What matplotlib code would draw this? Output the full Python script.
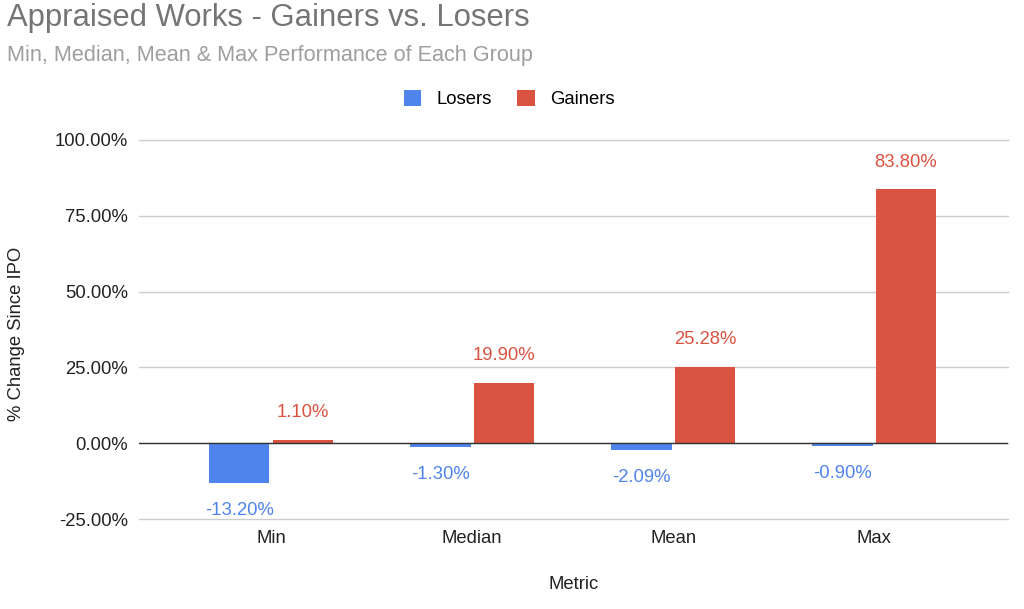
import matplotlib
matplotlib.use("Agg")
import matplotlib.pyplot as plt
from matplotlib.patches import Patch
import numpy as np

categories = ["Min", "Median", "Mean", "Max"]
losers = [-13.20, -1.30, -2.09, -0.90]
gainers = [1.10, 19.90, 25.28, 83.80]
yticks = [-25, 0, 25, 50, 75, 100]

BLUE = "#4f84ec"
RED = "#da5240"
FS = 13.3

plt.rcParams['font.family'] = ['Liberation Sans', 'DejaVu Sans']

fig = plt.figure(figsize=(10.24, 6.09), dpi=100)
ax = fig.add_axes([139/1024, 1-519/609, (1008-139)/1024, (519-140)/609])

x = np.arange(len(categories))
w = 0.30
off = 0.158
ax.bar(x - off, losers, width=w, color=BLUE, zorder=3)
ax.bar(x + off, gainers, width=w, color=RED, zorder=3)

for xi, v in zip(x, losers):
    ax.annotate(f"{v:.2f}%", (xi - off, v), xytext=(0, -19.8), textcoords="offset points",
                ha="center", va="center", color=BLUE, fontsize=FS)
for xi, v in zip(x, gainers):
    ax.annotate(f"{v:.2f}%", (xi + off, v), xytext=(0, 19.5), textcoords="offset points",
                ha="center", va="center", color=RED, fontsize=FS)

ax.set_xlim(-0.657, 3.665)
ax.set_ylim(-25, 100)
ax.set_yticks(yticks)
ax.set_yticklabels([f"{t:.2f}%" for t in yticks], fontsize=FS, color="#222222")
ax.set_xticks(x)
ax.set_xticklabels(categories, fontsize=FS, color="#222222")
ax.tick_params(axis="y", length=0, pad=8)
ax.tick_params(axis="x", length=0, pad=8)
for s in ax.spines.values():
    s.set_visible(False)
ax.grid(axis="y", color="#cccccc", linewidth=1, zorder=0)
for gl in ax.get_ygridlines():
    gl.set_clip_on(False)
ax.axhline(0, color="#333333", linewidth=1, zorder=4)

ax.set_xlabel("Metric", fontsize=FS, color="#222222", labelpad=21)
fig.text(17/1024, 1-334/609, "% Change Since IPO", rotation=90, ha="center", va="center",
         fontsize=FS, color="#222222")

fig.text(7/1024, 1-18/609, "Appraised Works - Gainers vs. Losers", fontsize=22.3,
         color="#757575", ha="left", va="center")
fig.text(7/1024, 1-56/609, "Min, Median, Mean & Max Performance of Each Group", fontsize=15.6,
         color="#9e9e9e", ha="left", va="center")

handles = [Patch(facecolor=BLUE, label="Losers"), Patch(facecolor=RED, label="Gainers")]
fig.legend(handles=handles, loc="center", bbox_to_anchor=(509/1024, 1-99/609), ncol=2,
           frameon=False, fontsize=FS, handlelength=0.95, handleheight=0.95,
           columnspacing=1.4, handletextpad=0.8)

fig.savefig("out.png", dpi=100)
